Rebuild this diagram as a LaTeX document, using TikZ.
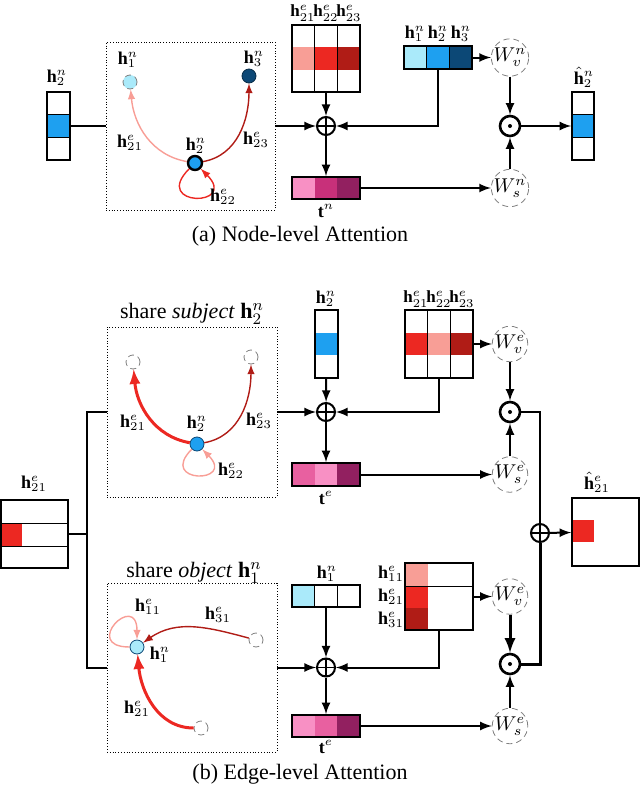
\documentclass[tikz,border=0pt]{standalone}
\usepackage{amsmath,amssymb}
\usepackage{fontspec}
\setmainfont{Liberation Serif}
\usepackage{tikz}
\usetikzlibrary{arrows,fit,positioning}

\definecolor{hblue}{RGB}{30,160,240}
\definecolor{hcyan}{RGB}{170,234,250}
\definecolor{hnavy}{RGB}{12,72,118}
\definecolor{ered}{RGB}{236,40,34}
\definecolor{esalmon}{RGB}{248,158,150}
\definecolor{edark}{RGB}{176,28,22}
\definecolor{tpink}{RGB}{248,144,196}
\definecolor{tmag}{RGB}{200,48,122}
\definecolor{trose}{RGB}{232,96,160}
\definecolor{tplum}{RGB}{146,32,96}

\begin{document}
\begin{tikzpicture}[x=0.5pt,y=-0.5pt,>=latex,
    flow/.style={line width=1pt},
    frame/.style={draw,densely dotted,inner sep=0pt},
    vecbox/.style={draw,line width=0.8pt,inner sep=0pt},
    gnode/.style={circle,minimum size=7pt,inner sep=0pt},
    hollow/.style={gnode,draw=gray,densely dashed,thin,fill=white},
    weight/.style={circle,draw=gray,densely dashed,thin,fill=white,minimum size=17pt,inner sep=0pt,font=\normalsize},
    oplus/.style={circle,draw,line width=1pt,minimum size=9pt,inner sep=0pt,
      path picture={\draw[line width=0.8pt] (path picture bounding box.north) -- (path picture bounding box.south)
        (path picture bounding box.west) -- (path picture bounding box.east);}},
    odot/.style={circle,draw,line width=1.3pt,minimum size=10pt,inner sep=0pt,
      path picture={\fill (path picture bounding box.center) circle (1pt);}},
    rel/.style={->,line width=0.7pt},
    strong/.style={->,line width=1.5pt},
    selfloop/.style={loop,min distance=17pt,looseness=12},
    lbl/.style={font=\small,inner sep=0pt},
    head/.style={font=\fontsize{8.5}{10}\selectfont,inner sep=0pt},
    caption/.style={font=\fontsize{11}{13}\selectfont}]
\useasboundingbox (0,0) rectangle (640,787);

% (a) node-level attention
\fill[hblue] (47,114.7) rectangle (70,137.3);
\node[vecbox,fit={(47,92) (70,160)}] (inA) {};
\draw (47,114.7) -- (70,114.7) (47,137.3) -- (70,137.3);
\node[lbl] at (57,78) {$\mathbf{h}^n_2$};

\node[frame,fit={(106,42) (275,210)}] (gA) {};
\node[gnode,fill=hcyan,draw=gray,densely dashed,thin] (a1) at (130,82) {};
\node[gnode,fill=hnavy,draw=hnavy!60!black] (a3) at (249,76) {};
\node[gnode,fill=hblue,draw,line width=1.2pt] (a2) at (195,163) {};
\draw[rel,esalmon] (a2) to[out=170,in=-85] (a1);
\draw[rel,edark] (a2) to[out=10,in=-90] (a3);
\draw[rel,ered] (a2) to[selfloop,out=-135,in=-45] (a2);
\node[lbl] at (128,60) {$\mathbf{h}^n_1$};
\node[lbl] at (254,59) {$\mathbf{h}^n_3$};
\node[lbl] at (196,146) {$\mathbf{h}^n_2$};
\node[lbl] at (130,143) {$\mathbf{h}^e_{21}$};
\node[lbl] at (256,140) {$\mathbf{h}^e_{23}$};
\node[lbl] at (223,197) {$\mathbf{h}^e_{22}$};

\node[oplus] (addA) at (326,126) {};
\foreach \c/\x in {esalmon/292,ered/314.67,edark/337.33}
  \fill[\c] (\x,47.3) rectangle ++(22.67,22.4);
\node[vecbox,fit={(292,25) (360,92)}] (eA) {};
\draw (314.67,25) -- (314.67,92) (337.33,25) -- (337.33,92);
\node[head] at (303,13) {$\mathbf{h}^e_{21}$};
\node[head] at (326,13) {$\mathbf{h}^e_{22}$};
\node[head] at (349,13) {$\mathbf{h}^e_{23}$};

\foreach \c/\x in {hcyan/404,hblue/426.67,hnavy/449.33}
  \fill[\c] (\x,46) rectangle ++(22.67,23);
\node[vecbox,fit={(404,46) (472,69)}] (nA) {};
\draw (426.67,46) -- (426.67,69) (449.33,46) -- (449.33,69);
\node[lbl] at (415,34) {$\mathbf{h}^n_1$};
\node[lbl] at (438,34) {$\mathbf{h}^n_2$};
\node[lbl] at (461,34) {$\mathbf{h}^n_3$};

\node[weight] (WvA) at (510,57.5) {$W^n_v$};
\node[odot] (mulA) at (510,126) {};
\node[weight] (WsA) at (510,188) {$W^n_s$};

\foreach \c/\x in {tpink/292,tmag/314.67,tplum/337.33}
  \fill[\c] (\x,177) rectangle ++(22.67,22);
\node[vecbox,fit={(292,177) (360,199)}] (tA) {};
\node[lbl] at (326,211) {$\mathbf{t}^n$};

\fill[hblue] (572,114.7) rectangle (594,137.3);
\node[vecbox,fit={(572,92) (594,160)}] (outA) {};
\draw (572,114.7) -- (594,114.7) (572,137.3) -- (594,137.3);
\node[lbl] at (584,77) {$\hat{\mathbf{h}}^n_2$};

\draw[flow] (inA) -- (gA);
\draw[flow,->] (gA) -- (addA);
\draw[flow,->] (eA) -- (addA);
\draw[flow,->] (nA.south) |- (addA);
\draw[flow,->] (nA) -- (WvA);
\draw[flow,->] (WvA) -- (mulA);
\draw[flow,->] (addA) -- (tA);
\draw[flow,->] (tA) -- (WsA);
\draw[flow,->] (WsA) -- (mulA);
\draw[flow,->] (mulA) -- (outA);
\node[caption] at (300,236) {(a) Node-level Attention};

% (b) edge-level attention, shared subject
\node[caption] at (192,314) {share \textit{subject} $\mathbf{h}^n_2$};
\node[frame,fit={(107,327) (277,497)}] (gB) {};
\node[hollow] (b1) at (133,362) {};
\node[hollow] (b3) at (251,357) {};
\node[gnode,fill=hblue,draw=hnavy] (b2) at (197,444) {};
\draw[strong,ered] (b2) to[out=170,in=-85] (b1);
\draw[rel,edark] (b2) to[out=10,in=-90] (b3);
\draw[rel,esalmon] (b2) to[selfloop,out=-135,in=-45] (b2);
\node[lbl] at (133,423) {$\mathbf{h}^e_{21}$};
\node[lbl] at (197,424) {$\mathbf{h}^n_2$};
\node[lbl] at (259,421) {$\mathbf{h}^e_{23}$};
\node[lbl] at (231,471) {$\mathbf{h}^e_{22}$};

\node[oplus] (addB) at (326,412) {};
\fill[hblue] (315,332.7) rectangle (338,355.3);
\node[vecbox,fit={(315,310) (338,378)}] (hB) {};
\node[lbl] at (326,299) {$\mathbf{h}^n_2$};

\foreach \c/\x in {ered/405,esalmon/427.67,edark/450.33}
  \fill[\c] (\x,332.7) rectangle ++(22.67,22.6);
\node[vecbox,fit={(405,310) (473,378)}] (eB) {};
\draw (427.67,310) -- (427.67,378) (450.33,310) -- (450.33,378);
\node[head] at (416,299) {$\mathbf{h}^e_{21}$};
\node[head] at (439,299) {$\mathbf{h}^e_{22}$};
\node[head] at (462,299) {$\mathbf{h}^e_{23}$};

\node[weight] (WvB) at (510,344) {$W^e_v$};
\node[odot] (mulB) at (510,412) {};
\node[weight] (WsB) at (510,474.5) {$W^e_s$};

\foreach \c/\x in {trose/292,tpink/314.67,tplum/337.33}
  \fill[\c] (\x,463) rectangle ++(22.67,23);
\node[vecbox,fit={(292,463) (360,486)}] (tB) {};
\node[lbl] at (326,498) {$\mathbf{t}^e$};

\draw[flow,->] (gB) -- (addB);
\draw[flow,->] (hB) -- (addB);
\draw[flow,->] (eB.south) |- (addB);
\draw[flow,->] (eB) -- (WvB);
\draw[flow,->] (WvB) -- (mulB);
\draw[flow,->] (addB) -- (tB);
\draw[flow,->] (tB) -- (WsB);
\draw[flow,->] (WsB) -- (mulB);

% (b) edge-level attention, shared object
\node[caption] at (194,573) {share \textit{object} $\mathbf{h}^n_1$};
\node[frame,fit={(107,583) (277,752)}] (gC) {};
\node[gnode,fill=hcyan,draw=hnavy] (c1) at (137,647) {};
\node[hollow] (c3) at (256,640) {};
\node[hollow] (c2) at (201,728) {};
\draw[rel,edark] (c3) to[out=165,in=35] (c1);
\draw[strong,ered] (c2) to[out=180,in=-85] (c1);
\draw[rel,esalmon] (c1) to[selfloop,out=180,in=90] (c1);
\node[lbl] at (148,607) {$\mathbf{h}^e_{11}$};
\node[lbl] at (218,615) {$\mathbf{h}^e_{31}$};
\node[lbl] at (160,655) {$\mathbf{h}^n_1$};
\node[lbl] at (137,709) {$\mathbf{h}^e_{21}$};

\node[oplus] (addC) at (326,667.5) {};
\fill[hcyan] (292,585) rectangle (314.67,607);
\node[vecbox,fit={(292,585) (360,607)}] (hC) {};
\draw (314.67,585) -- (314.67,607) (337.33,585) -- (337.33,607);
\node[lbl] at (327,574) {$\mathbf{h}^n_1$};

\fill[esalmon] (405,563) rectangle (427.67,586);
\fill[ered] (405,586) rectangle (427.67,608);
\fill[edark] (405,608) rectangle (427.67,630);
\node[vecbox,fit={(405,563) (473,630)}] (eC) {};
\draw (405,586) -- (473,586);
\node[lbl] at (391,574) {$\mathbf{h}^e_{11}$};
\node[lbl] at (391,597) {$\mathbf{h}^e_{21}$};
\node[lbl] at (391,620) {$\mathbf{h}^e_{31}$};

\node[weight] (WvC) at (510,596.5) {$W^e_v$};
\node[odot] (mulC) at (510,664) {};
\node[weight] (WsC) at (510,726) {$W^e_s$};

\foreach \c/\x in {tpink/292,trose/314.67,tplum/337.33}
  \fill[\c] (\x,715) rectangle ++(22.67,22);
\node[vecbox,fit={(292,715) (360,737)}] (tC) {};
\node[lbl] at (326,747) {$\mathbf{t}^e$};

\draw[flow,->] (gC) -- (addC);
\draw[flow,->] (hC) -- (addC);
\draw[flow,->] (eC.south) |- (addC);
\draw[flow,->] (eC) -- (WvC);
\draw[flow,->,line width=1.5pt] (WvC) -- (mulC);
\draw[flow,->] (addC) -- (tC);
\draw[flow,->] (tC) -- (WsC);
\draw[flow,->] (WsC) -- (mulC);

% split input and merge outputs
\fill[ered] (1,523) rectangle (22,546);
\node[vecbox,fit={(1,500) (68,568)}] (hE) {};
\draw (1,523) -- (68,523) (1,546) -- (68,546);
\node[lbl] at (34,484) {$\mathbf{h}^e_{21}$};
\coordinate (split) at (87,534);
\draw[flow] (hE) -- (split);
\draw[flow] (split) |- (gB);
\draw[flow] (split) |- (gC);

\node[oplus] (addD) at (540,533) {};
\draw[flow] (mulB) -| (addD);
\draw[flow,line width=1.5pt] (mulC) -| (addD);
\fill[ered] (573,520) rectangle (594,542);
\node[vecbox,fit={(572,498) (639,566)}] (outB) {};
\draw[flow,->] (addD) -- (outB);
\node[lbl] at (597,482) {$\hat{\mathbf{h}}^e_{21}$};
\node[caption] at (300,774) {(b) Edge-level Attention};
\end{tikzpicture}
\end{document}
